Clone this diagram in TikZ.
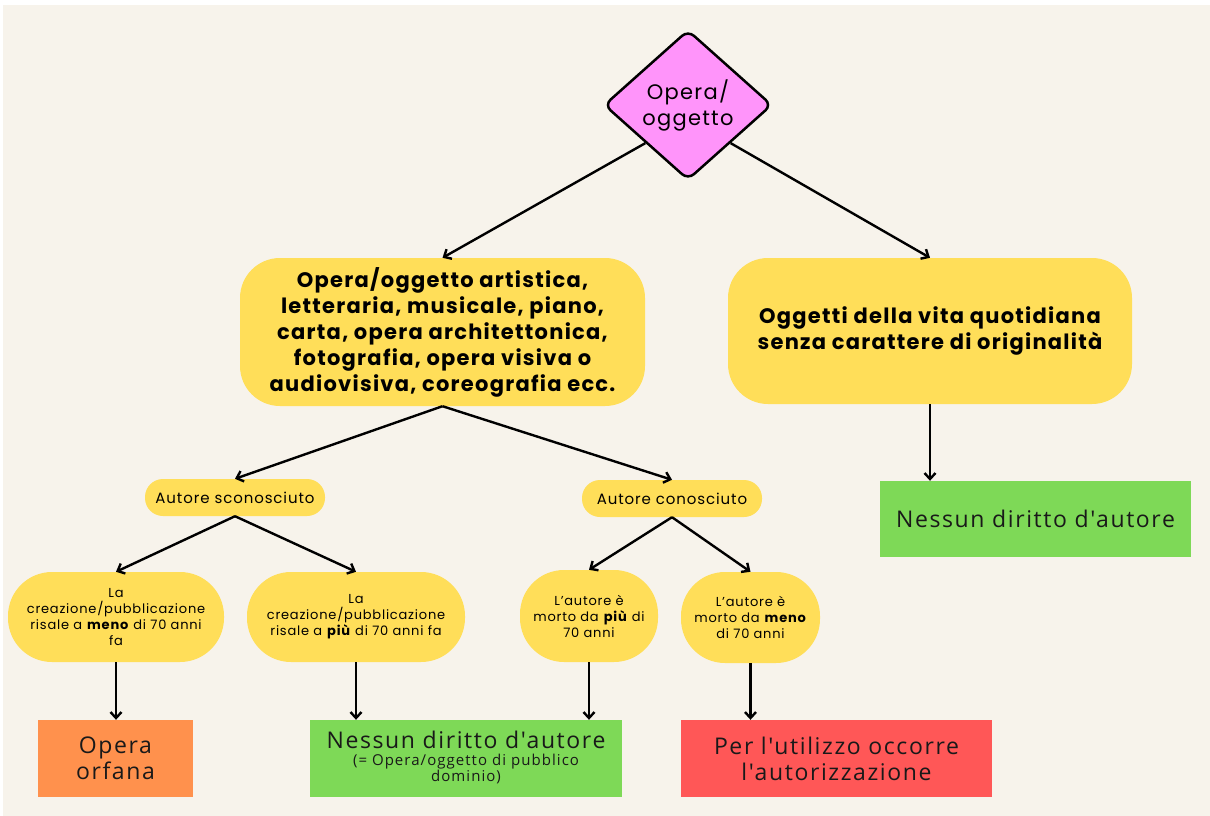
\documentclass[tikz,border=0pt]{standalone}
\usepackage{fontspec}
\setmainfont{Poppins}[LetterSpace=6]
\newfontfamily\boxfont{Open Sans}[LetterSpace=7]
\usetikzlibrary{shapes.geometric,arrows.meta}
\definecolor{bgc}{HTML}{F7F3EB}
\definecolor{yelc}{HTML}{FFDE59}
\definecolor{pinkc}{HTML}{FF94FA}
\definecolor{orangec}{HTML}{FF914D}
\definecolor{greenc}{HTML}{7ED957}
\definecolor{redc}{HTML}{FF5757}
\newcommand{\smalltxt}{\fontsize{15}{16}\selectfont}
\begin{document}
\begin{tikzpicture}[x=1pt,y=-1pt,
  conn/.style={line width=2.4pt,-{Straight Barb[length=6pt,width=11pt]}},
  yel/.style={rectangle, fill=yelc, draw=none, align=center, inner sep=0pt, text=black},
  big/.style={yel, rounded corners=40pt, font=\fontsize{21}{26}\selectfont\bfseries},
  pill/.style={yel, rounded corners=18pt, minimum width=180pt, minimum height=37pt, font=\fontsize{15}{16}\selectfont},
  oval/.style={yel, rounded corners=44pt, minimum height=90pt, font=\fontsize{13}{16}\selectfont},
  res/.style={rectangle, inner sep=0pt, align=center, minimum height=77pt, text=black!90, font=\boxfont\fontsize{23}{26}\selectfont}]
\useasboundingbox (0,0) rectangle (1210,816);
\fill[white] (0,0) rectangle (1210,816);
\fill[bgc] (3,5) rectangle (1210,816);

\node[diamond, draw=black, line width=2.5pt, fill=pinkc, rounded corners=8pt,
      minimum width=168pt, minimum height=150pt, inner sep=0pt, align=center,
      font=\fontsize{21}{26}\selectfont] (d) at (688,105) {\raisebox{-3pt}{Opera/}\\\raisebox{-3pt}{oggetto}};

\node[big, minimum width=405pt, minimum height=148pt] (A) at (442.5,332)
  {Opera/oggetto artistica,\\letteraria, musicale, piano,\\carta, opera architettonica,\\fotografia, opera visiva o\\audiovisiva, coreografia ecc.};
\node[big, minimum width=404pt, minimum height=146pt] (B) at (930,331)
  {Oggetti della vita quotidiana\\senza carattere di originalità};

\node[pill] (S) at (235,497.5) {Autore sconosciuto};
\node[pill] (C) at (672,498.5) {Autore conosciuto};

\node[oval, minimum width=216pt] (L1) at (116,617)
  {La\\creazione/pubblicazione\\risale a \textbf{meno} di 70 anni\\fa};
\node[oval, minimum width=218pt] (L2) at (356,617)
  {La\\creazione/pubblicazione\\risale a \textbf{più} di 70 anni fa};
\node[oval, minimum width=138pt, minimum height=92pt] (L3) at (589,616)
  {L'autore è\\morto da \textbf{più} di\\70 anni};
\node[oval, minimum width=139pt, minimum height=91pt] (L4) at (750.5,617.5)
  {L'autore è\\morto da \textbf{meno}\\di 70 anni};

\node[res, fill=orangec, minimum width=155pt] (O) at (115.5,758.5) {Opera\\orfana};
\node[res, fill=greenc, minimum width=312pt] (N) at (466,758.5)
  {Nessun diritto d'autore\\[-1pt]{\smalltxt\begin{tabular}{@{}c@{}}(= Opera/oggetto di pubblico\\dominio)\end{tabular}}};
\node[res, fill=redc, minimum width=311pt] (R) at (836.5,758.5) {Per l'utilizzo occorre\\l'autorizzazione};
\node[res, fill=greenc, minimum width=311pt, minimum height=76pt] (G) at (1035.5,519) {Nessun diritto d'autore};

\draw[conn] (d.south west) -- (A.north);
\draw[conn] (d.south east) -- (B.north);
\draw[conn] (A.south) -- (S.north);
\draw[conn] (A.south) -- (C.north);
\draw[conn] (B.south) -- (B.south |- G.north);
\draw[conn] (S.south) -- (L1.north);
\draw[conn] (S.south) -- (L2.north);
\draw[conn] (C.south) -- (L3.north);
\draw[conn] (C.south) -- (L4.north);
\draw[conn] (L1.south) -- (L1.south |- O.north);
\draw[conn] (L2.south) -- (L2.south |- N.north);
\draw[conn] (L3.south) -- (L3.south |- N.north);
\draw[conn] (L4.south) -- (L4.south |- R.north);
\end{tikzpicture}
\end{document}
